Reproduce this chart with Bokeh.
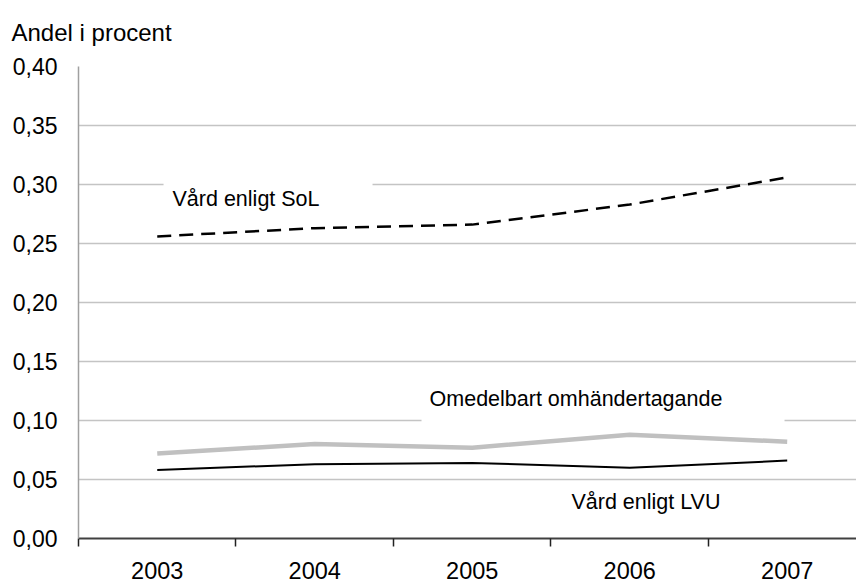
from bokeh.plotting import figure
from bokeh.models import (Range1d, FixedTicker, CustomJSTickFormatter, Label, BoxAnnotation)
from bokeh.embed import file_html
from bokeh.resources import INLINE

years = ["2003", "2004", "2005", "2006", "2007"]
sol = [0.256, 0.263, 0.266, 0.283, 0.306]
omedelbart = [0.072, 0.080, 0.077, 0.088, 0.082]
lvu = [0.058, 0.063, 0.064, 0.060, 0.066]
y_ticks = [0.0, 0.05, 0.10, 0.15, 0.20, 0.25, 0.30, 0.35, 0.40]

xs = list(range(len(years)))
FONT = "Liberation Sans"

p = figure(width=856, height=583, output_backend="svg", toolbar_location=None,
           x_range=Range1d(-0.5, 4.44), y_range=Range1d(0, 0.4),
           min_border_left=78, min_border_right=0, min_border_top=66, min_border_bottom=45)
p.outline_line_color = None
p.background_fill_color = "white"
p.border_fill_color = "white"

# title used as the y-axis caption at top left
p.title.text = "Andel i procent"
p.title.align = "left"
p.title.vertical_align = "top"
p.title.offset = -67
p.title.standoff = 37
p.title.text_line_height = 0.9
p.title.text_font = FONT
p.title.text_font_size = "24px"
p.title.text_font_style = "normal"
p.title.text_color = "black"

# grid
p.xgrid.visible = False
p.ygrid.ticker = FixedTicker(ticks=y_ticks)
p.ygrid.grid_line_color = "#c4c4c4"
p.ygrid.grid_line_width = 1.5

# y axis
p.yaxis.ticker = FixedTicker(ticks=y_ticks)
p.yaxis.formatter = CustomJSTickFormatter(code="return tick.toFixed(2).replace('.', ',');")
p.yaxis.major_tick_out = 0
p.yaxis.major_tick_in = 0
p.yaxis.minor_tick_out = 0
p.yaxis.minor_tick_in = 0
p.yaxis.axis_line_color = "#a0a0a0"
p.yaxis.axis_line_width = 1.5
p.yaxis.major_label_standoff = 21
p.yaxis.major_label_text_font = FONT
p.yaxis.major_label_text_font_size = "23px"
p.yaxis.major_label_text_color = "black"

# x axis
p.xaxis.ticker = FixedTicker(ticks=xs, minor_ticks=[-0.5, 0.5, 1.5, 2.5, 3.5, 4.5])
p.xaxis.major_label_overrides = {i: y for i, y in zip(xs, years)}
p.xaxis.major_tick_out = 0
p.xaxis.major_tick_in = 0
p.xaxis.minor_tick_out = 8
p.xaxis.minor_tick_in = 0
p.xaxis.minor_tick_line_color = "#222222"
p.xaxis.minor_tick_line_width = 1.5
p.xaxis.axis_line_color = "#404040"
p.xaxis.axis_line_width = 2
p.xaxis.major_label_standoff = 15
p.xaxis.major_label_text_font = FONT
p.xaxis.major_label_text_font_size = "23.5px"
p.xaxis.major_label_text_color = "black"

# white gaps behind in-plot labels
p.add_layout(BoxAnnotation(left=0.04, right=1.367, bottom=0.276, top=0.312,
                           fill_color="white", fill_alpha=1, line_color=None, level="underlay"))
p.add_layout(BoxAnnotation(left=1.678, right=3.983, bottom=0.094, top=0.126,
                           fill_color="white", fill_alpha=1, line_color=None, level="underlay"))

# lines
p.line(xs, sol, line_color="black", line_width=2.5, line_dash="14 8")
p.line(xs, omedelbart, line_color="#c0c0c0", line_width=4.5)
p.line(xs, lvu, line_color="black", line_width=2)

# labels
p.add_layout(Label(x=0.097, y=0.288, text="Vård enligt SoL", text_font=FONT,
                   text_font_size="21.5px", text_baseline="middle", text_color="black"))
p.add_layout(Label(x=1.729, y=0.1186, text="Omedelbart omhändertagande", text_font=FONT,
                   text_font_size="21.5px", text_baseline="middle", text_color="black"))
p.add_layout(Label(x=2.63, y=0.031, text="Vård enligt LVU", text_font=FONT,
                   text_font_size="21.5px", text_baseline="middle", text_color="black"))

open("out.html", "w").write(file_html(p, INLINE))
